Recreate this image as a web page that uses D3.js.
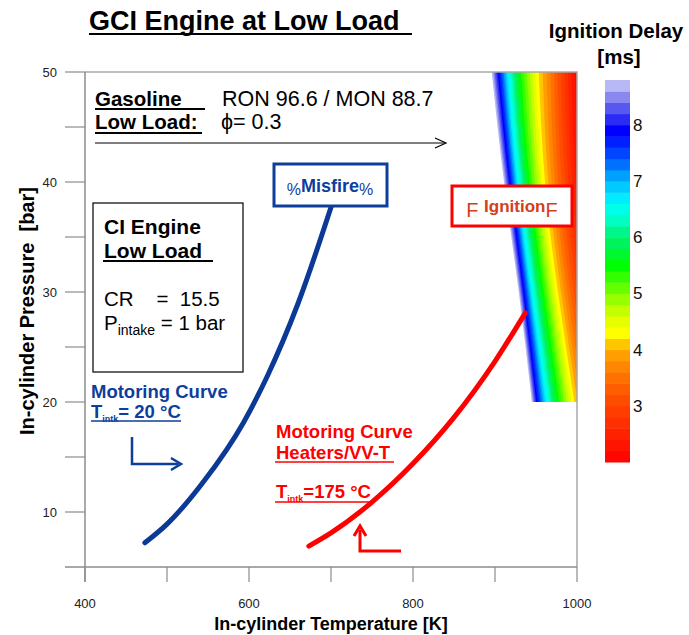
<!DOCTYPE html>
<html><head><meta charset="utf-8">
<script src="https://cdn.jsdelivr.net/npm/d3@7"></script>
<style>body{margin:0;background:#fff}svg{display:block;font-family:"Liberation Sans",Arial,sans-serif}</style>
</head><body><svg id="c" width="689" height="635"></svg>
<script>
// ---------- data ----------
const tempTicks = [400, 500, 600, 700, 800, 900, 1000];
const tempLabels = [400, 600, 800, 1000];
const pressTicks = [10, 15, 20, 25, 30, 35, 40, 45, 50];
const pressLabels = [10, 20, 30, 40, 50];

// motoring curves (T [K], P [bar])
const coldT = [473, 500, 544, 593, 622, 660, 700];
const coldP = [7.2, 8.9, 12.7, 18.1, 22.3, 29.0, 37.7];
const hotT = [673, 700, 750, 800, 850, 900, 937];
const hotP = [6.9, 8.1, 10.9, 14.4, 18.6, 23.7, 28.1];

// ignition-delay map: temperature of iso-delay lines at each pressure row
const delayPressures = [50, 40, 30, 20];
const delayKeyLevels = [8.8, 7.9, 6.6, 5.5, 4.3, 3.5, 2.5];
const isoTempsAt50 = [896, 904, 916, 930, 951, 970, 991];
const isoTempsAt40 = [911, 918, 928, 941, 959, 975, 996];
const isoTempsAt30 = [929, 935, 945, 958, 975, 990, 1010];
const isoTempsAt20 = [945, 951, 963, 977, 995, 1010, 1030];
const isoTempRows = [isoTempsAt50, isoTempsAt40, isoTempsAt30, isoTempsAt20];

// colour bar
const delayMin = 2.0, delayMax = 8.8, delayStep = 0.2;
const colorbarTicks = [3, 4, 5, 6, 7, 8];
const colorStopValues = [2.0, 3.0, 3.5, 4.0, 4.3, 4.6, 5.0, 5.5, 6.0, 6.3, 6.6, 7.0, 7.3, 7.6, 7.9, 8.2, 8.4, 8.6, 8.8];
const colorStopColors = ["#ff0000", "#ff4400", "#ff7000", "#ffaa00", "#ffff00", "#d8ff00", "#80ff00", "#00ff00", "#00f070", "#00ffc0", "#00ffff", "#00b8ff", "#0070ff", "#0030ff", "#0000ff", "#4040f0", "#7070f0", "#a0a0f0", "#d0d0f8"];

// ---------- drawing ----------
const svg = d3.select("#c");
const x = d3.scaleLinear().domain([400, 1000]).range([85, 577]);
const y = d3.scaleLinear().domain([5, 50]).range([567, 72]);
const color = d3.scaleLinear().domain(colorStopValues).range(colorStopColors);
const axisCol = "#8c8c8c";

const bands = d3.range(Math.round((delayMax - delayMin) / delayStep)).map(i => {
  const lo = +(delayMin + i * delayStep).toFixed(2);
  return {lo, hi: +(lo + delayStep).toFixed(2)};
});

// contour map
const clipId = "mapclip";
svg.append("clipPath").attr("id", clipId).append("rect")
  .attr("x", x(400)).attr("y", y(50)).attr("width", x(1000) - x(400)).attr("height", y(20) - y(50));
const rowScales = isoTempRows.map(r => d3.scaleLinear().domain(delayKeyLevels).range(r));
const area = d3.area().curve(d3.curveNatural)
  .y(d => y(d.p)).x0(d => x(d.t)).x1(x(1000) + 20);
const mapG = svg.append("g").attr("clip-path", `url(#${clipId})`);
bands.slice().reverse().forEach(b => {
  const pts = delayPressures.map((p, i) => ({p, t: rowScales[i](b.hi)}));
  mapG.append("path").attr("d", area(pts)).attr("fill", color((b.lo + b.hi) / 2)).attr("stroke", "none");
});

// frame
svg.append("path").attr("d", `M${x(400)},${y(50)}H${x(1000)}V${y(5)}`).attr("fill", "none").attr("stroke", "#a8a8a8").attr("stroke-width", 1.5);

// axes
const xAxis = svg.append("g").attr("transform", `translate(0,${y(5)})`);
xAxis.append("line").attr("x1", 65).attr("x2", x(1000)).attr("stroke", axisCol).attr("stroke-width", 1.5);
xAxis.selectAll(".t").data(tempTicks).join("line").attr("x1", d => x(d)).attr("x2", d => x(d)).attr("y1", 0).attr("y2", 15).attr("stroke", axisCol).attr("stroke-width", 1.2);
xAxis.selectAll(".l").data(tempLabels).join("text").attr("x", d => x(d)).attr("y", 41).attr("text-anchor", "middle").attr("font-size", 13).attr("fill", "#222").text(d => d);

const yAxis = svg.append("g").attr("transform", `translate(${x(400)},0)`);
yAxis.append("line").attr("y1", y(50)).attr("y2", y(5) + 15).attr("stroke", axisCol).attr("stroke-width", 1.5);
yAxis.selectAll(".t").data(pressTicks).join("line").attr("x1", -20).attr("x2", 0).attr("y1", d => y(d)).attr("y2", d => y(d)).attr("stroke", axisCol).attr("stroke-width", 1.2);
yAxis.selectAll(".l").data(pressLabels).join("text").attr("x", -28).attr("y", d => y(d)).attr("dy", "0.35em").attr("text-anchor", "end").attr("font-size", 13).attr("fill", "#222").text(d => d);

svg.append("text").attr("x", 331).attr("y", 630).attr("text-anchor", "middle").attr("font-size", 18).attr("font-weight", "bold").text("In-cylinder Temperature [K]");
svg.append("text").attr("transform", "translate(34,311) rotate(-90)").attr("text-anchor", "middle").attr("font-size", 20).attr("font-weight", "bold").attr("xml:space", "preserve").text("In-cylinder Pressure  [bar]");

// curves
const line = d3.line().curve(d3.curveMonotoneX).x(d => x(d[0])).y(d => y(d[1]));
svg.append("path").attr("d", line(d3.zip(coldT, coldP))).attr("fill", "none").attr("stroke", "#0b3a96").attr("stroke-width", 5).attr("stroke-linecap", "round");
svg.append("path").attr("d", line(d3.zip(hotT, hotP))).attr("fill", "none").attr("stroke", "#ff0000").attr("stroke-width", 5).attr("stroke-linecap", "round");

// title
svg.append("text").attr("x", 89).attr("y", 30).attr("font-size", 27).attr("font-weight", "bold").text("GCI Engine at Low Load");
svg.append("line").attr("x1", 89).attr("x2", 412).attr("y1", 34).attr("y2", 34).attr("stroke", "#000").attr("stroke-width", 2);

// gasoline annotation
function under(x1, x2, yy, col, w) { svg.append("line").attr("x1", x1).attr("x2", x2).attr("y1", yy).attr("y2", yy).attr("stroke", col).attr("stroke-width", w || 2); }
svg.append("text").attr("x", 95).attr("y", 106).attr("font-size", 20.5).attr("font-weight", "bold").text("Gasoline");
under(95, 205, 109, "#000");
svg.append("text").attr("x", 222).attr("y", 106).attr("font-size", 21.5).text("RON 96.6 / MON 88.7");
svg.append("text").attr("x", 95).attr("y", 129).attr("font-size", 20.5).attr("font-weight", "bold").text("Low Load:");
under(95, 202, 133, "#000");
svg.append("text").attr("x", 221).attr("y", 129).attr("font-size", 21.5).text("ϕ= 0.3");
svg.append("line").attr("x1", 95).attr("x2", 445).attr("y1", 143).attr("y2", 143).attr("stroke", "#000").attr("stroke-width", 1.2);
svg.append("path").attr("d", "M435,138L446,143L435,148").attr("fill", "none").attr("stroke", "#000").attr("stroke-width", 1.2);

// CI engine box
svg.append("rect").attr("x", 93).attr("y", 203).attr("width", 150).attr("height", 169).attr("fill", "#fff").attr("stroke", "#000").attr("stroke-width", 1.2);
svg.append("text").attr("x", 104).attr("y", 234).attr("font-size", 21).attr("font-weight", "bold").text("CI Engine");
svg.append("text").attr("x", 104).attr("y", 258).attr("font-size", 21).attr("font-weight", "bold").text("Low Load");
under(103, 213, 261, "#000");
svg.append("text").attr("x", 104).attr("y", 306).attr("font-size", 20.5).attr("xml:space", "preserve").text("CR    =  15.5");
const pt = svg.append("text").attr("x", 104).attr("y", 330).attr("font-size", 20.5);
pt.append("tspan").text("P");
pt.append("tspan").attr("font-size", 14).attr("dy", 5).text("intake");
pt.append("tspan").attr("dy", -5).text(" = 1 bar");

// blue annotation
const blue = "#0d3e9c";
svg.append("text").attr("x", 91).attr("y", 398).attr("font-size", 18.5).attr("font-weight", "bold").attr("fill", blue).text("Motoring Curve");
const bt = svg.append("text").attr("x", 91).attr("y", 418).attr("font-size", 18.5).attr("font-weight", "bold").attr("fill", blue);
bt.append("tspan").text("T");
bt.append("tspan").attr("font-size", 9).attr("dy", 4).text("intk");
bt.append("tspan").attr("dy", -4).text("= 20 °C");
under(91, 181, 421, blue, 1.5);
svg.append("path").attr("d", "M132,437V464H178").attr("fill", "none").attr("stroke", blue).attr("stroke-width", 2.5);
svg.append("path").attr("d", "M171,458L181,464L171,470").attr("fill", "none").attr("stroke", blue).attr("stroke-width", 2.5);

// misfire box
svg.append("rect").attr("x", 274).attr("y", 164).attr("width", 113).attr("height", 42).attr("fill", "#fff").attr("stroke", blue).attr("stroke-width", 3);
const mt = svg.append("text").attr("x", 330).attr("y", 192).attr("text-anchor", "middle").attr("fill", blue);
mt.append("tspan").attr("font-size", 16).attr("dy", 3).text("%");
mt.append("tspan").attr("font-size", 18).attr("font-weight", "bold").attr("dy", -3).text("Misfire");
mt.append("tspan").attr("font-size", 16).attr("dy", 3).text("%");

// ignition box
const ign = "#d2401a";
svg.append("rect").attr("x", 452).attr("y", 186).attr("width", 120).attr("height", 40).attr("fill", "#fff").attr("stroke", "#ff0000").attr("stroke-width", 3);
const it = svg.append("text").attr("x", 512).attr("y", 212).attr("text-anchor", "middle").attr("fill", ign);
it.append("tspan").attr("font-size", 20).attr("dy", 5).text("F ");
it.append("tspan").attr("font-size", 17).attr("font-weight", "bold").attr("dy", -5).text("Ignition");
it.append("tspan").attr("font-size", 20).attr("dy", 5).text("F");

// red annotation
const red = "#ff0000";
svg.append("text").attr("x", 276).attr("y", 438).attr("font-size", 18.5).attr("font-weight", "bold").attr("fill", red).text("Motoring Curve");
svg.append("text").attr("x", 276).attr("y", 459).attr("font-size", 18.5).attr("font-weight", "bold").attr("fill", red).text("Heaters/VV-T");
under(275, 394, 462, red, 1.5);
const rt = svg.append("text").attr("x", 276).attr("y", 498).attr("font-size", 18.5).attr("font-weight", "bold").attr("fill", red);
rt.append("tspan").text("T");
rt.append("tspan").attr("font-size", 9).attr("dy", 4).text("intk");
rt.append("tspan").attr("dy", -4).text("=175 °C");
under(275, 371, 502, red, 1.5);
svg.append("path").attr("d", "M401,551H360V530").attr("fill", "none").attr("stroke", red).attr("stroke-width", 3);
svg.append("path").attr("d", "M354,536L360,526L366,536").attr("fill", "none").attr("stroke", red).attr("stroke-width", 3);

// colour bar
const cb = d3.scaleLinear().domain([delayMin, delayMax]).range([462, 80]);
svg.append("g").selectAll("rect").data(bands).join("rect")
  .attr("x", 605).attr("width", 25)
  .attr("y", d => cb(d.hi)).attr("height", d => cb(d.lo) - cb(d.hi) + 0.5)
  .attr("fill", d => color((d.lo + d.hi) / 2));
svg.append("g").selectAll("text").data(colorbarTicks).join("text")
  .attr("x", 633).attr("y", d => cb(d)).attr("dy", "0.35em").attr("font-size", 17).attr("fill", "#111").text(d => d);
svg.append("text").attr("x", 616).attr("y", 38).attr("text-anchor", "middle").attr("font-size", 20.5).attr("font-weight", "bold").text("Ignition Delay");
svg.append("text").attr("x", 619).attr("y", 64).attr("text-anchor", "middle").attr("font-size", 20.5).attr("font-weight", "bold").text("[ms]");
</script></body></html>
